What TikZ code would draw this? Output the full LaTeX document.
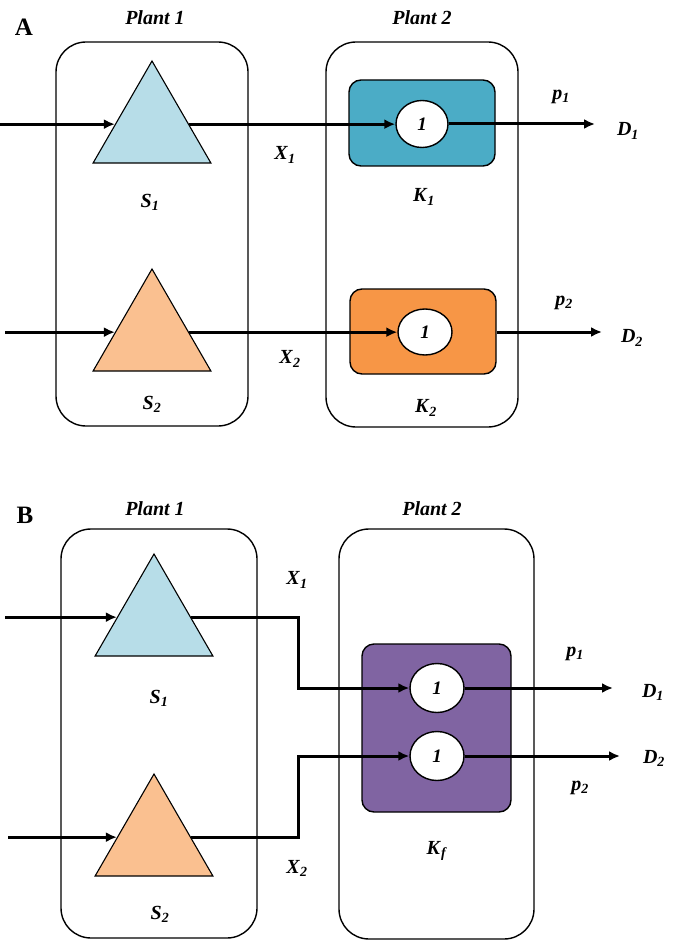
\documentclass[tikz,border=0pt]{standalone}
\usepackage{fontspec}
\setmainfont{Liberation Serif}
\usetikzlibrary{shapes.geometric,arrows.meta,calc}
\definecolor{srcblue}{HTML}{B7DDE8}
\definecolor{srcorange}{HTML}{FAC090}
\definecolor{unitteal}{HTML}{4BACC6}
\definecolor{unitorange}{HTML}{F79646}
\definecolor{unitpurple}{HTML}{8064A2}
\def\var#1#2{\textbf{\textit{#1}}\textsubscript{\textbf{\textit{#2}}}}

\begin{document}
\begin{tikzpicture}[x=1pt,y=-1pt,
  plant/.style={draw,line width=1.4pt,rounded corners=30pt,inner sep=0pt},
  src/.style={regular polygon,regular polygon sides=3,draw,line width=1.1pt,
    minimum size=136pt,inner sep=0pt},
  unit/.style={draw,line width=1.4pt,rounded corners=12pt,inner sep=0pt},
  one/.style={ellipse,draw,fill=white,line width=1.4pt,inner sep=0pt,
    font=\fontsize{19}{19}\selectfont\bfseries\itshape},
  lbl/.style={font=\fontsize{20}{22}\selectfont},
  panel/.style={font=\fontsize{25}{27}\selectfont\bfseries},
  arr/.style={line width=3pt,-{Latex[length=11pt,width=10pt]}}]
\useasboundingbox (0,0) rectangle (685,941);
% (A) two plants, one unit for each product
\node[panel] (A) at (24,27) {A};
\node[lbl] (plantA1) at (155,18) {\textbf{\textit{Plant 1}}};
\node[lbl] (plantA2) at (422,18) {\textbf{\textit{Plant 2}}};
\node[plant,minimum width=192pt,minimum height=384pt] (P1a) at (152,234) {};
\node[plant,minimum width=192pt,minimum height=385pt] (P2a) at (422,234.5) {};
\node[src,fill=srcblue] (S1) at (152,129) {};
\node[src,fill=srcorange] (S2) at (152,337) {};
\node[unit,fill=unitteal,minimum width=146pt,minimum height=86pt] (K1) at (422,123) {};
\node[unit,fill=unitorange,minimum width=146pt,minimum height=85pt] (K2) at (423,331.5) {};
\node[one,minimum width=52pt,minimum height=47pt] (c1) at (422,124) {1};
\node[one,minimum width=54pt,minimum height=46pt] (c2) at (425,332) {1};
\coordinate (l1) at ($(S1.corner 1)!0.62!(S1.corner 2)$);
\coordinate (r1) at ($(S1.corner 1)!0.62!(S1.corner 3)$);
\coordinate (l2) at ($(S2.corner 1)!0.62!(S2.corner 2)$);
\coordinate (r2) at ($(S2.corner 1)!0.62!(S2.corner 3)$);
\coordinate (in1) at (0,0); \coordinate (in2) at (5,0);
\coordinate (o1) at (595,124); \coordinate (o2) at (602,332);
\draw[arr] (in1 |- l1) -- (l1);
\draw[arr] (in2 |- l2) -- (l2);
\draw[arr] (r1) -- (r1 -| c1.west);
\draw[arr] (r2) -- (r2 -| c2.west);
\draw[arr] (c1.east) -- (o1);
\draw[arr] (K2.east |- c2) -- (o2);
\node[lbl] (X1a) at (285,155) {\var{X}{1}};
\node[lbl] (X2a) at (290,359) {\var{X}{2}};
\node[lbl] (S1a) at (150,202) {\var{S}{1}};
\node[lbl] (S2a) at (152,404) {\var{S}{2}};
\node[lbl] (K1a) at (424,197) {\var{K}{1}};
\node[lbl] (K2a) at (426,408) {\var{K}{2}};
\node[lbl] (p1a) at (561,97) {\var{p}{1}};
\node[lbl] (p2a) at (564,303) {\var{p}{2}};
\node[lbl] (D1a) at (628,131) {\var{D}{1}};
\node[lbl] (D2a) at (632,338) {\var{D}{2}};
% (B) one flexible unit for both products
\node[panel] (B) at (25,515) {B};
\node[lbl] (plantB1) at (155,509) {\textbf{\textit{Plant 1}}};
\node[lbl] (plantB2) at (432,509) {\textbf{\textit{Plant 2}}};
\node[plant,minimum width=196pt,minimum height=409pt] (P1b) at (159,733.5) {};
\node[plant,minimum width=195pt,minimum height=410pt] (P2b) at (436.5,734) {};
\node[src,fill=srcblue] (S1b) at (154,622) {};
\node[src,fill=srcorange] (S2b) at (154,842) {};
\node[unit,fill=unitpurple,minimum width=149pt,minimum height=168pt] (Kf) at (436.5,728) {};
\node[one,minimum width=54pt,minimum height=49pt] (c3) at (437,688) {1};
\node[one,minimum width=54pt,minimum height=49pt] (c4) at (437,756) {1};
\coordinate (l3) at ($(S1b.corner 1)!0.62!(S1b.corner 2)$);
\coordinate (r3) at ($(S1b.corner 1)!0.62!(S1b.corner 3)$);
\coordinate (l4) at ($(S2b.corner 1)!0.62!(S2b.corner 2)$);
\coordinate (r4) at ($(S2b.corner 1)!0.62!(S2b.corner 3)$);
\coordinate (in3) at (5,0); \coordinate (in4) at (8,0);
\coordinate (b3) at (298,688); \coordinate (b4) at (298,756);
\coordinate (o3) at (613,688); \coordinate (o4) at (620,756);
\draw[arr] (in3 |- l3) -- (l3);
\draw[arr] (in4 |- l4) -- (l4);
\draw[arr] (r3) -| (b3) -- (c3.west);
\draw[arr] (r4) -| (b4) -- (c4.west);
\draw[arr] (c3.east) -- (o3);
\draw[arr] (c4.east) -- (o4);
\node[lbl] (X1b) at (297,580) {\var{X}{1}};
\node[lbl] (X2b) at (297,868) {\var{X}{2}};
\node[lbl] (S1b') at (159,698) {\var{S}{1}};
\node[lbl] (S2b') at (160,914) {\var{S}{2}};
\node[lbl] (Kfb) at (437,851) {\var{K}{f}};
\node[lbl] (p1b) at (575,654) {\var{p}{1}};
\node[lbl] (p2b) at (580,788) {\var{p}{2}};
\node[lbl] (D1b) at (653,692) {\var{D}{1}};
\node[lbl] (D2b) at (654,758) {\var{D}{2}};
\end{tikzpicture}
\end{document}
